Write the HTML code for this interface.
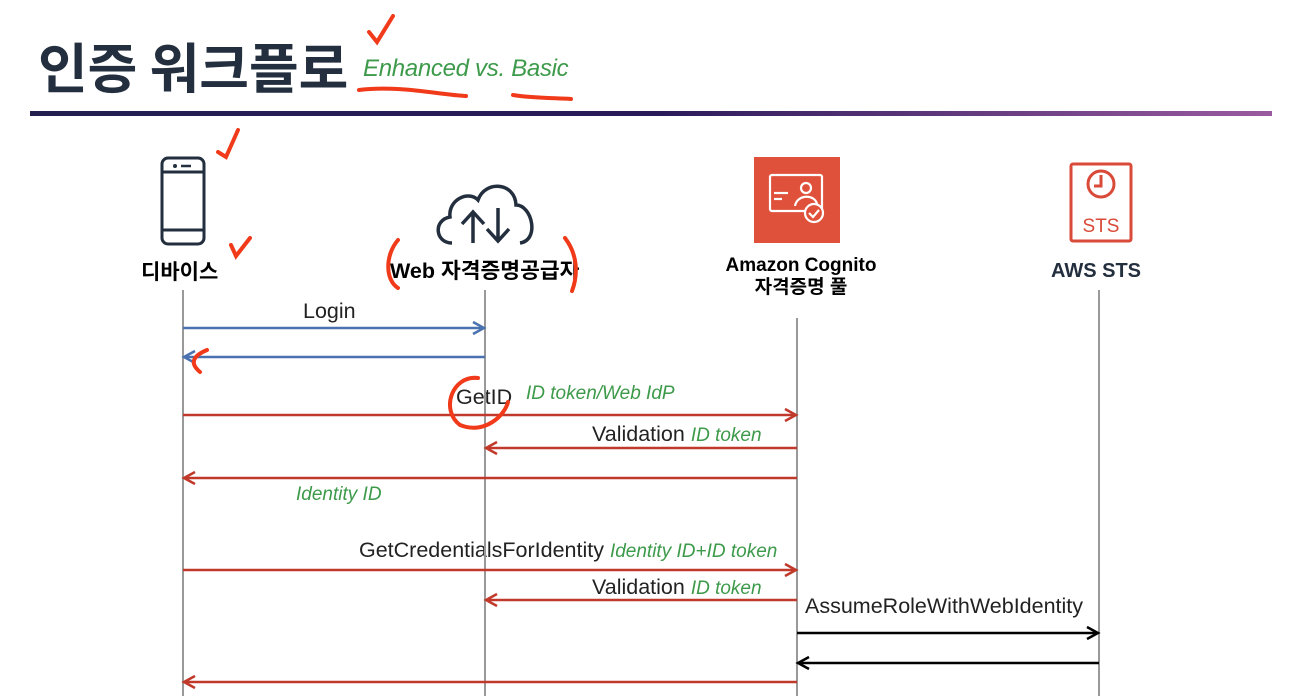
<!DOCTYPE html>
<html><head><meta charset="utf-8"><style>
body{margin:0;width:1299px;height:696px;background:#fff;overflow:hidden;position:relative;font-family:"Liberation Sans","Noto Sans CJK KR",sans-serif}
.t{position:absolute;white-space:nowrap}
.g{color:#3d9a4a;font-style:italic}
.m{font-size:21.5px;color:#222}
.s{font-size:19px}
</style></head><body>
<div class="t" style="left:38px;top:32px;font-size:54px;font-weight:bold;color:#232f3e;font-family:'Noto Sans CJK KR',sans-serif;line-height:66px">인증 워크플로</div>
<div class="t g" style="left:363px;top:55px;font-size:24px;font-style:italic;letter-spacing:-0.3px">Enhanced vs. Basic</div>
<div style="position:absolute;left:30px;top:111px;width:1242px;height:5px;background:linear-gradient(90deg,#232050,#2a1a5a 50%,#9b5aa0)"></div>

<div class="t" style="left:141px;top:256px;font-size:21px;font-weight:bold;color:#000;font-family:'Noto Sans CJK KR',sans-serif">디바이스</div>
<div class="t" style="left:390px;top:254px;font-size:21.5px;font-weight:bold;color:#000">Web 자격증명공급자</div>
<div class="t" style="left:720px;top:255px;font-size:19px;font-weight:bold;color:#000;text-align:center;line-height:22px;width:162px">Amazon Cognito<br>자격증명 풀</div>
<div class="t" style="left:1051px;top:260px;font-size:20px;font-weight:bold;color:#232f3e">AWS STS</div>

<div class="t m" style="left:303px;top:299px">Login</div>
<div class="t m" style="left:456px;top:385px">GetID</div>
<div class="t g s" style="left:526px;top:383px">ID token/Web IdP</div>
<div class="t m" style="left:592px;top:422px">Validation <span class="g s">ID token</span></div>
<div class="t g s" style="left:296px;top:484px">Identity ID</div>
<div class="t m" style="left:359px;top:538px">GetCredentialsForIdentity <span class="g s">Identity ID+ID token</span></div>
<div class="t m" style="left:592px;top:575px">Validation <span class="g s">ID token</span></div>
<div class="t m" style="left:805px;top:594px">AssumeRoleWithWebIdentity</div>

<svg width="1299" height="696" style="position:absolute;left:0;top:0">
<g stroke="#999" stroke-width="2">
<line x1="183" y1="290" x2="183" y2="696"/><line x1="485" y1="290" x2="485" y2="696"/>
<line x1="797" y1="318" x2="797" y2="696"/><line x1="1099" y1="290" x2="1099" y2="696"/></g>
<g fill="none" stroke="#232f3e" stroke-width="3"><rect x="162" y="158" width="42" height="86" rx="6"/><line x1="163" y1="172" x2="203" y2="172"/><line x1="163" y1="230" x2="203" y2="230"/></g>
<circle cx="175" cy="166" r="2" fill="#232f3e"/><line x1="181" y1="166" x2="191" y2="166" stroke="#232f3e" stroke-width="2.5"/>
<g fill="none" stroke="#232f3e" stroke-width="3.5"><path d="M452 243 C435 243 433 220 450 217 C448 200 468 190 478 200 C485 180 515 182 516 205 C532 205 540 240 520 243"/>
<path d="M473 243 V212 M462 224 L473 212 L484 224 M498 208 V241 M487 229 L498 241 L509 229"/></g>
<rect x="754" y="157" width="86" height="86" fill="#e0513b"/>
<g fill="none" stroke="#fff" stroke-width="2.2"><rect x="770" y="175" width="52" height="36" rx="2"/><circle cx="806" cy="188" r="5"/><path d="M795 206 C797 194 815 194 817 204"/><circle cx="814" cy="213" r="9" fill="#e0513b"/><path d="M809 213 l4 4 l6 -7"/><line x1="774" y1="193" x2="788" y2="193"/><line x1="774" y1="199" x2="782" y2="199"/></g>
<g fill="none" stroke="#d94a38" stroke-width="3"><rect x="1071" y="164" width="60" height="77" rx="2"/><circle cx="1101" cy="184" r="13"/><path d="M1101 175 V186 H1094"/></g>
<text x="1101" y="232" font-size="19" fill="#d94a38" text-anchor="middle" font-family="Liberation Sans">STS</text>
<defs>
<marker id="b" markerWidth="16" markerHeight="16" refX="13" refY="8" orient="auto" markerUnits="userSpaceOnUse"><path d="M2 2 L13 8 L2 14" fill="none" stroke="#4a72b0" stroke-width="2.5"/></marker>
<marker id="r" markerWidth="16" markerHeight="16" refX="13" refY="8" orient="auto" markerUnits="userSpaceOnUse"><path d="M2 2 L13 8 L2 14" fill="none" stroke="#c0392b" stroke-width="2.5"/></marker>
<marker id="k" markerWidth="16" markerHeight="16" refX="13" refY="8" orient="auto" markerUnits="userSpaceOnUse"><path d="M2 2 L13 8 L2 14" fill="none" stroke="#000" stroke-width="2.5"/></marker>
</defs>
<g stroke-width="2.5" fill="none">
<line x1="183" y1="328" x2="484" y2="328" stroke="#4a72b0" marker-end="url(#b)"/>
<line x1="485" y1="357" x2="184" y2="357" stroke="#4a72b0" marker-end="url(#b)"/>
<line x1="183" y1="415" x2="796" y2="415" stroke="#c0392b" marker-end="url(#r)"/>
<line x1="797" y1="448" x2="486" y2="448" stroke="#c0392b" marker-end="url(#r)"/>
<line x1="797" y1="478" x2="184" y2="478" stroke="#c0392b" marker-end="url(#r)"/>
<line x1="183" y1="570" x2="796" y2="570" stroke="#c0392b" marker-end="url(#r)"/>
<line x1="797" y1="600" x2="486" y2="600" stroke="#c0392b" marker-end="url(#r)"/>
<line x1="797" y1="633" x2="1098" y2="633" stroke="#000" marker-end="url(#k)"/>
<line x1="1099" y1="663" x2="798" y2="663" stroke="#000" marker-end="url(#k)"/>
<line x1="797" y1="682" x2="184" y2="682" stroke="#c0392b" marker-end="url(#r)"/>
</g>
<g fill="none" stroke="#f03a1a" stroke-width="4" stroke-linecap="round">
<path d="M369 32 L377 42 L393 16"/>
<path d="M359 90 C400 85 440 95 466 96"/><path d="M513 95 C530 98 555 98 571 99"/>
<path d="M218 152 L226 157 L238 130"/><path d="M231 245 L236 256 L250 238"/>
<path d="M398 240 C385 255 385 280 398 288"/><path d="M565 238 C578 255 578 275 572 291"/>
<path d="M207 350 C195 355 188 362 200 372"/>
<path d="M478 378 C452 375 440 410 460 425 C485 435 505 415 508 402"/>
</g>
</svg>
</body></html>
